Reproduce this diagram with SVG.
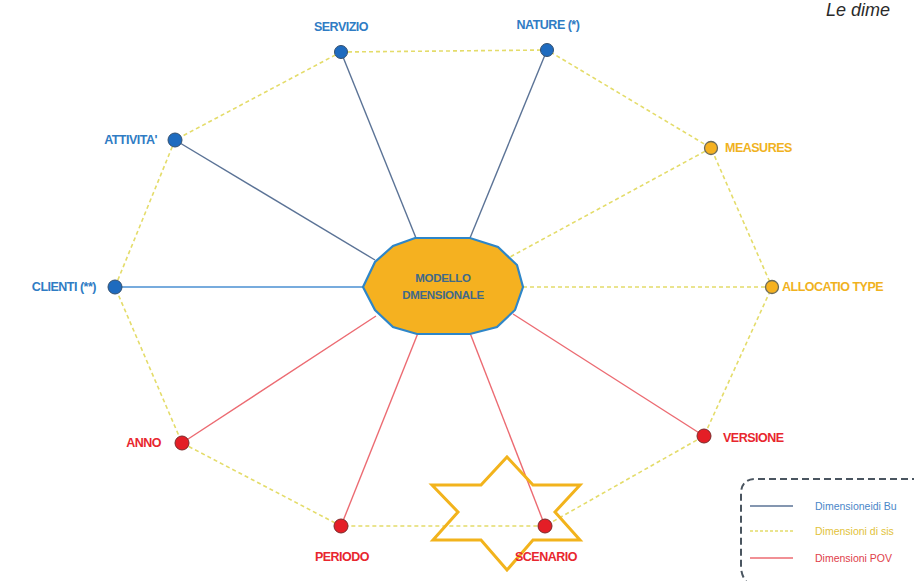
<svg xmlns="http://www.w3.org/2000/svg" width="914" height="581" viewBox="0 0 914 581">
<defs>
<style>
.lbl{font-family:"Liberation Sans",Arial,sans-serif;font-weight:bold;font-size:12.5px;letter-spacing:-0.5px}
.blue{fill:#2F7CC4}
.gold{fill:#F0B21E}
.red{fill:#E8262E}
.dotB{fill:#1E6BBF;stroke:#34506e;stroke-width:1}
.dotG{fill:#F5B120;stroke:#6b6b5a;stroke-width:1.3}
.dotR{fill:#E41E26;stroke:#7a2a2a;stroke-width:1}
.ring{stroke:#E4DC6A;stroke-width:1.6;stroke-dasharray:4 3;fill:none}
.sb{stroke:#5B7396;stroke-width:1.4}
.sr{stroke:#EC6B72;stroke-width:1.4}
.leg{font-family:"Liberation Sans",Arial,sans-serif;font-size:10.5px}
</style>
</defs>
<rect width="914" height="581" fill="#ffffff"/>
<text x="826" y="16" font-family="Liberation Sans,Arial,sans-serif" font-style="italic" font-size="18" fill="#2a2a2a">Le dime</text>

<g id="connectors">
<polyline class="ring" points="341,52 547,50 711,148 772,287 704,436 545,526 341,526 182,443 115,287 175,140 341,52"/>
<line class="ring" x1="711" y1="148" x2="510" y2="257"/>
<line class="ring" x1="772" y1="287" x2="523" y2="287"/>
<line class="sb" x1="341" y1="52" x2="416" y2="238"/>
<line class="sb" x1="547" y1="50" x2="470" y2="238"/>
<line class="sb" x1="175" y1="140" x2="375" y2="260"/>
<line stroke="#4A8FD2" stroke-width="1.6" x1="115" y1="287" x2="363" y2="287"/>
<line class="sr" x1="182" y1="443" x2="376" y2="316"/>
<line class="sr" x1="341" y1="526" x2="418" y2="333"/>
<line class="sr" x1="545" y1="526" x2="470" y2="333"/>
<line class="sr" x1="704" y1="436" x2="513" y2="314"/>
</g>

<g id="center">
<polygon points="415,238 470,238 498,247 517,265 523,287 515,310 497,327 470,334 417,334 393,327 375,310 363,287 375,262 393,246" fill="#F5B120" stroke="#2E86C8" stroke-width="2.2"/>
<text x="443" y="282" text-anchor="middle" font-family="Liberation Sans,Arial,sans-serif" font-weight="bold" font-size="11.5" fill="#40698A" letter-spacing="-0.3">MODELLO</text>
<text x="443" y="299" text-anchor="middle" font-family="Liberation Sans,Arial,sans-serif" font-weight="bold" font-size="11.5" fill="#40698A" letter-spacing="-0.3">DMENSIONALE</text>
</g>

<g id="star">
<polygon points="507,457 533,485 580,485 555,512 580,540 533,540 507,570 481,540 433,540 458,512 432,485 481,485" fill="none" stroke="#F2B31C" stroke-width="3" stroke-linejoin="miter"/>
</g>

<g id="servizio"><circle class="dotB" cx="341" cy="52" r="6.5"/><text class="lbl blue" x="341" y="31" text-anchor="middle">SERVIZIO</text></g>
<g id="nature"><circle class="dotB" cx="547" cy="50" r="6.5"/><text class="lbl blue" x="548" y="29" text-anchor="middle">NATURE (*)</text></g>
<g id="measures"><circle class="dotG" cx="711" cy="148" r="6.5"/><text class="lbl gold" x="725" y="152">MEASURES</text></g>
<g id="allocatio"><circle class="dotG" cx="772" cy="287" r="6.5"/><text class="lbl gold" x="782" y="291">ALLOCATIO TYPE</text></g>
<g id="versione"><circle class="dotR" cx="704" cy="436" r="7"/><text class="lbl red" x="723" y="442">VERSIONE</text></g>
<g id="scenario"><circle class="dotR" cx="545" cy="526" r="7"/><text class="lbl red" x="546" y="561" text-anchor="middle">SCENARIO</text></g>
<g id="periodo"><circle class="dotR" cx="341" cy="526" r="7"/><text class="lbl red" x="342" y="561" text-anchor="middle">PERIODO</text></g>
<g id="anno"><circle class="dotR" cx="182" cy="443" r="7"/><text class="lbl red" x="161" y="447" text-anchor="end">ANNO</text></g>
<g id="clienti"><circle class="dotB" cx="115" cy="287" r="7"/><text class="lbl blue" x="96" y="291" text-anchor="end">CLIENTI (**)</text></g>
<g id="attivita"><circle class="dotB" cx="175" cy="140" r="7"/><text class="lbl blue" x="157" y="144" text-anchor="end">ATTIVITA'</text></g>

<g id="legend">
<path d="M930,479 H756 Q741,479 741,494 V566 Q741,581 756,590" fill="none" stroke="#4a5560" stroke-width="2" stroke-dasharray="7 4"/>
<line x1="750" y1="506" x2="793" y2="506" stroke="#5B7396" stroke-width="1.6"/>
<line x1="750" y1="531" x2="793" y2="531" stroke="#E4DC6A" stroke-width="1.6" stroke-dasharray="3 2"/>
<line x1="750" y1="558" x2="793" y2="558" stroke="#EC6B72" stroke-width="1.6"/>
<text class="leg" x="815" y="510" fill="#4A86C8">Dimensioneidi Bu</text>
<text class="leg" x="815" y="535" fill="#E2C23A">Dimensioni di sis</text>
<text class="leg" x="815" y="562" fill="#E0404A">Dimensioni POV</text>
</g>
</svg>
